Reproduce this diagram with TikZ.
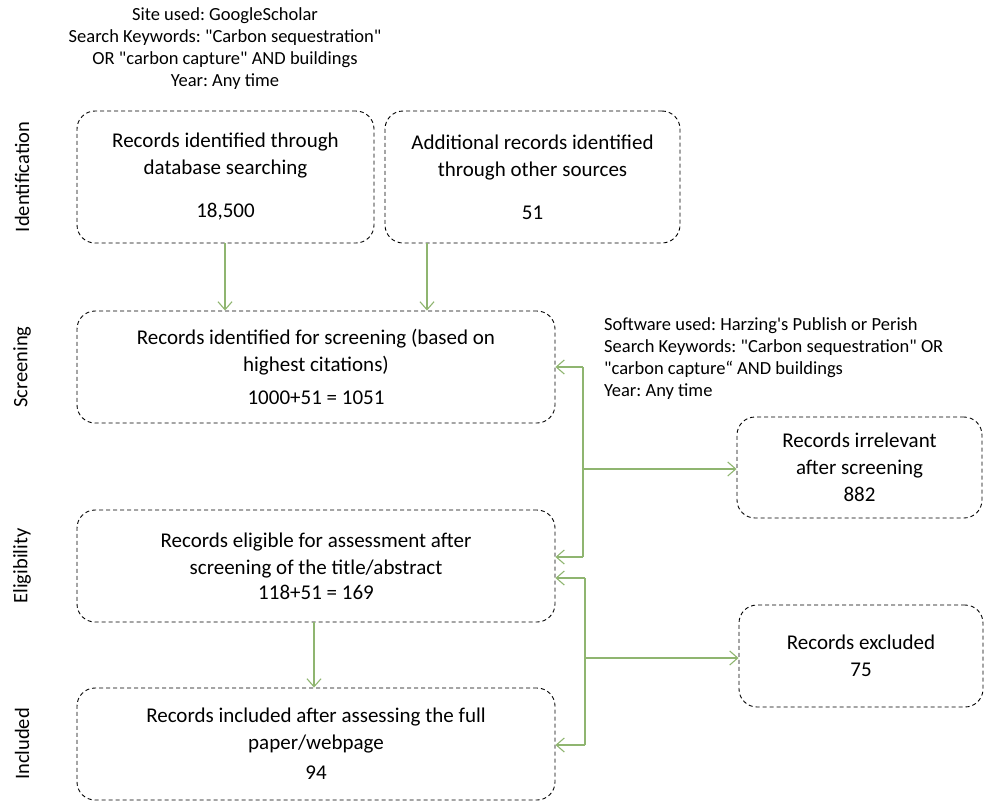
\documentclass[tikz,border=0pt]{standalone}
\usepackage{fontspec}
\setmainfont{Carlito}[Ligatures=TeXOff]
\usetikzlibrary{arrows.meta}
\frenchspacing
\definecolor{flowgreen}{RGB}{143,181,112}
\tikzstyle{record-node}=[draw=black,rounded corners=18pt,dash pattern=on 4pt off 3pt,line width=0.9pt,align=center,font=\fontsize{21}{27}\selectfont,inner sep=0pt]
\tikzstyle{note-node}=[align=center,font=\fontsize{18.5}{22}\selectfont,inner sep=0pt]
\tikzstyle{stage-node}=[rotate=90,font=\fontsize{20.5}{24}\selectfont,inner sep=0pt]
\tikzstyle{green-line}=[draw=flowgreen,line width=1.1pt]

\begin{document}
\begin{tikzpicture}[x=1pt,y=-1pt]
	\useasboundingbox (0,0) rectangle (985,803);
	\begin{scope}
	\node (sitenote)[note-node] at (225,48.5) {Site used: GoogleScholar\\Search Keywords: "Carbon sequestration"\\OR "carbon capture" AND buildings\\Year: Any time};
	\node (softnote)[note-node,align=left,anchor=west] at (604,358.5) {Software used: Harzing's Publish or Perish\\Search Keywords: "Carbon sequestration" OR\\"carbon capture“ AND buildings\\Year: Any time};
	\end{scope}
	
	\begin{scope}
	\node (ident)[stage-node] at (22,177) {Identification};
	\node (scrn)[stage-node] at (22,367) {Screening};
	\node (elig)[stage-node] at (22,566) {Eligibility};
	\node (incl)[stage-node] at (22,744) {Included};
	\end{scope}
	
	\begin{scope}
	\node (db)[record-node,minimum width=297pt,minimum height=132pt] at (225.5,177) {Records identified through\\database searching\\[16pt]18,500};
	\node (other)[record-node,minimum width=295pt,minimum height=132pt] at (532.5,177) {Additional records identified\\through other sources\\[16pt]51};
	
	\node (screened)[record-node,minimum width=478pt,minimum height=112pt] at (316,367) {Records identified for screening (based on\\highest citations)\\[6pt]1000+51 = 1051};
	\node (irrel)[record-node,minimum width=245pt,minimum height=101pt] at (859.5,467.5) {Records irrelevant\\after screening\\882};
	
	\node (eligible)[record-node,minimum width=478pt,minimum height=112pt] at (316,566) {Records eligible for assessment after\\screening of the title/abstract\\[-2pt]118+51 = 169};
	\node (excl)[record-node,minimum width=244pt,minimum height=102pt] at (861,656) {Records excluded\\75};
	
	\node (included)[record-node,minimum width=478pt,minimum height=112pt] at (316,744) {Records included after assessing the full\\paper/webpage\\[3pt]94};
	\end{scope}
	
	\begin{scope}
	\coordinate (dbout) at (225,243);
	\coordinate (otherout) at (427,243);
	\coordinate (eligout) at (314,622);
	\coordinate (split1top) at (583,367);
	\coordinate (split1mid) at (583,469);
	\coordinate (split1bot) at (583,557);
	\coordinate (split2top) at (585,578);
	\coordinate (split2mid) at (585,658);
	\coordinate (split2bot) at (585,745);
	\end{scope}
	
	\begin{scope}[>={Straight Barb[length=8pt,width=14pt]}, every edge/.style=green-line]
	\path [->] (dbout) edge (dbout |- screened.north);
	\path [->] (otherout) edge (otherout |- screened.north);
	\path [->] (eligout) edge (eligout |- included.north);
	
	\path (split1top) edge (split1bot);
	\path [->] (split1top) edge (split1top -| screened.east);
	\path [->] (split1bot) edge (split1bot -| eligible.east);
	\path [->] (split1mid) edge (split1mid -| irrel.west);
	
	\path (split2top) edge (split2bot);
	\path [->] (split2top) edge (split2top -| eligible.east);
	\path [->] (split2bot) edge (split2bot -| included.east);
	\path [->] (split2mid) edge (split2mid -| excl.west);
	\end{scope}
\end{tikzpicture}
\end{document}
